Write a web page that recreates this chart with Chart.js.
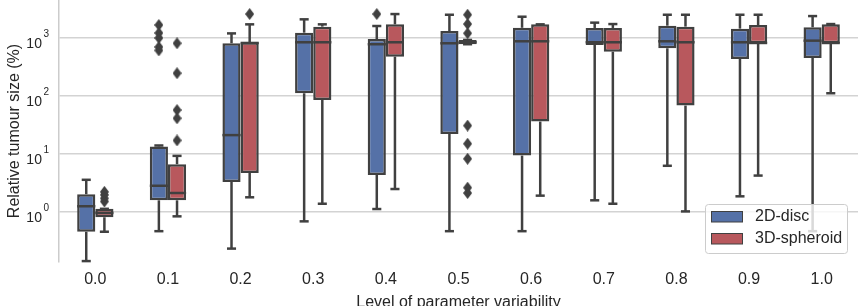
<!DOCTYPE html>
<html>
<head>
<meta charset="utf-8">
<script src="https://cdn.jsdelivr.net/npm/chart.js@4"></script>
<style>
  html, body { margin: 0; padding: 0; background: #fff; overflow: hidden; }
</style>
</head>
<body>
<canvas id="chart" width="858" height="316"></canvas>
<script>
/* ---------- dados ---------- */
const levels = ['0.0', '0.1', '0.2', '0.3', '0.4', '0.5', '0.6', '0.7', '0.8', '0.9', '1.0'];
const yTicks = [1, 10, 100, 1000];

// 2D-disc
const discLow  = [0.14, 0.46, 0.23, 0.68, 1.11, 0.46, 0.46, 1.57, 6.2, 1.84, 0.46];
const discQ1   = [0.45, 1.57, 3.25, 111, 4.3, 22, 9.3, 757, 664, 434, 452];
const discMed  = [1.24, 2.8, 21, 843, 780, 810, 877, 843, 877, 843, 899];
const discQ3   = [2.0, 13.4, 810, 1234, 960, 1320, 1500, 1490, 1630, 1450, 1530];
const discHigh = [3.55, 13.9, 1200, 2100, 1610, 2520, 2330, 1840, 2520, 2520, 2390];
const discOut  = [[], [1680, 1220, 1000, 700, 610], [], [], [2590], [], [], [], [], [], []];

// 3D-spheroid
const sphLow  = [0.45, 0.83, 1.77, 1.37, 2.46, 780, 1.89, 1.37, 1.01, 4.2, 111];
const sphQ1   = [0.8, 1.57, 4.65, 85, 476, 780, 36, 580, 68, 810, 810];
const sphMed  = [0.95, 2.1, 820, 843, 843, 843, 877, 843, 843, 820, 820];
const sphQ3   = [1.12, 6.6, 843, 1570, 1720, 925, 1720, 1490, 1570, 1675, 1720];
const sphHigh = [1.12, 9.2, 1720, 1720, 2590, 925, 1720, 1740, 2520, 2520, 1740];
const sphOut  = [[1.5, 1.7, 1.95, 2.2], [810, 246, 57, 41, 17], [2590], [], [],
                 [2520, 1740, 1205, 30.7, 14.9, 8.2, 2.6, 2.1], [], [], [], [], []];

/* ---------- estilo ---------- */
const BLUE = '#5571a7';
const RED = '#b8585d';
const EDGE = '#404040';
const TXT = '#262626';
const FONT = "'Liberation Sans', Arial, sans-serif";

const groups = [
    { label: '2D-disc', color: BLUE, low: discLow, q1: discQ1, med: discMed, q3: discQ3, high: discHigh, out: discOut },
    { label: '3D-spheroid', color: RED, low: sphLow, q1: sphQ1, med: sphMed, q3: sphQ3, high: sphHigh, out: sphOut }
];

/* diamante fino, como o marcador 'd' do matplotlib */
function diamond() {
    const c = document.createElement('canvas');
    c.width = 9; c.height = 12;
    const g = c.getContext('2d');
    g.fillStyle = EDGE;
    g.beginPath();
    g.moveTo(4.5, 0); g.lineTo(9, 6); g.lineTo(4.5, 12); g.lineTo(0, 6);
    g.closePath(); g.fill();
    return c;
}
const DIAMOND = diamond();

/* ---------- bigodes, medianas, outliers, rótulos y e legenda ---------- */
const boxParts = {
    id: 'boxParts',
    afterDatasetsDraw(chart) {
        const { ctx } = chart;
        const y = chart.scales.y;
        ctx.save();
        ctx.strokeStyle = EDGE;
        ctx.lineWidth = 2.5;
        const seg = (x1, y1, x2, y2) => { ctx.beginPath(); ctx.moveTo(x1, y1); ctx.lineTo(x2, y2); ctx.stroke(); };
        groups.forEach((g, d) => {
            chart.getDatasetMeta(d).data.forEach((bar, i) => {
                const half = bar.width / 2;
                const xm = bar.x;
                const pLow = y.getPixelForValue(g.low[i]);
                const pQ1 = y.getPixelForValue(g.q1[i]);
                const pMed = y.getPixelForValue(g.med[i]);
                const pQ3 = y.getPixelForValue(g.q3[i]);
                const pHigh = y.getPixelForValue(g.high[i]);
                if (pHigh < pQ3 - 0.5) seg(xm, pQ3, xm, pHigh);
                seg(xm - half / 2, pHigh, xm + half / 2, pHigh);
                if (pLow > pQ1 + 0.5) seg(xm, pQ1, xm, pLow);
                seg(xm - half / 2, pLow, xm + half / 2, pLow);
                seg(xm - half, pMed, xm + half, pMed);
                g.out[i].forEach(v => {
                    const py = y.getPixelForValue(v);
                    ctx.drawImage(DIAMOND, xm - DIAMOND.width / 2, py - DIAMOND.height / 2);
                });
            });
        });
        ctx.restore();
    },
    afterDraw(chart) {
        const { ctx } = chart;
        const y = chart.scales.y;
        ctx.save();
        // rótulos 10^n
        ctx.fillStyle = TXT;
        ctx.textAlign = 'left';
        ctx.textBaseline = 'alphabetic';
        yTicks.forEach(v => {
            const py = y.getPixelForValue(v);
            const exp = String(Math.round(Math.log10(v)));
            ctx.font = `10px ${FONT}`;
            const wSup = ctx.measureText(exp).width;
            ctx.font = `14px ${FONT}`;
            const wBase = ctx.measureText('10').width;
            const xSup = 49 - wSup;
            ctx.fillText('10', xSup - 1.5 - wBase, py + 10.5);
            ctx.font = `10px ${FONT}`;
            ctx.fillText(exp, xSup, py - 0.5);
        });

        // legenda
        const lx = 705, ly = 204, lw = 142, lh = 49;
        ctx.fillStyle = 'rgba(255,255,255,0.8)';
        ctx.strokeStyle = '#cccccc';
        ctx.lineWidth = 1;
        ctx.beginPath();
        ctx.roundRect(lx + 0.5, ly + 0.5, lw, lh, 3);
        ctx.fill(); ctx.stroke();
        ctx.font = `16px ${FONT}`;
        ctx.textBaseline = 'middle';
        groups.forEach((g, k) => {
            const cy = 216.5 + k * 22;
            ctx.fillStyle = g.color;
            ctx.fillRect(711, cy - 5.5, 32, 11);
            ctx.strokeStyle = EDGE;
            ctx.strokeRect(711.5, cy - 5, 31, 10.5);
            ctx.fillStyle = TXT;
            ctx.fillText(g.label, 755, cy + 0.5);
        });
        ctx.restore();
    }
};

/* ---------- datasets ---------- */
const boxSets = groups.map(g => ({
    label: g.label,
    data: g.q1.map((v, i) => [v, g.q3[i]]),
    backgroundColor: g.color,
    borderColor: EDGE,
    borderWidth: 2.5,
    borderSkipped: false,
    categoryPercentage: 0.5,
    barPercentage: 1.0
}));

new Chart(document.getElementById('chart'), {
    type: 'bar',
    data: { labels: levels, datasets: boxSets },
    options: {
        responsive: false,
        animation: false,
        layout: { padding: 0 },
        plugins: { legend: { display: false }, tooltip: { enabled: false } },
        scales: {
            x: {
                type: 'category',
                grid: { display: false, drawTicks: false },
                border: { display: false },
                ticks: { color: TXT, font: { size: 16, family: FONT }, padding: 8 },
                title: {
                    display: true, text: 'Level of parameter variability',
                    color: TXT, font: { size: 16, family: FONT }, padding: { top: 0, bottom: 3.5 }
                },
                afterFit: s => { s.height = 54; }
            },
            y: {
                type: 'logarithmic',
                min: 0.135,
                max: 4530,
                grid: { color: '#d3d3d3', lineWidth: 1.5, drawTicks: false },
                border: { display: true, color: '#cccccc', width: 1.5 },
                ticks: { display: false },
                afterBuildTicks: s => { s.ticks = yTicks.map(v => ({ value: v, major: true })); },
                title: {
                    display: true, text: 'Relative tumour size (%)',
                    color: TXT, font: { size: 16, family: FONT }, padding: { top: 5, bottom: 0 }
                },
                afterFit: s => { s.width = 59; }
            }
        }
    },
    plugins: [boxParts]
});
</script>
</body>
</html>
